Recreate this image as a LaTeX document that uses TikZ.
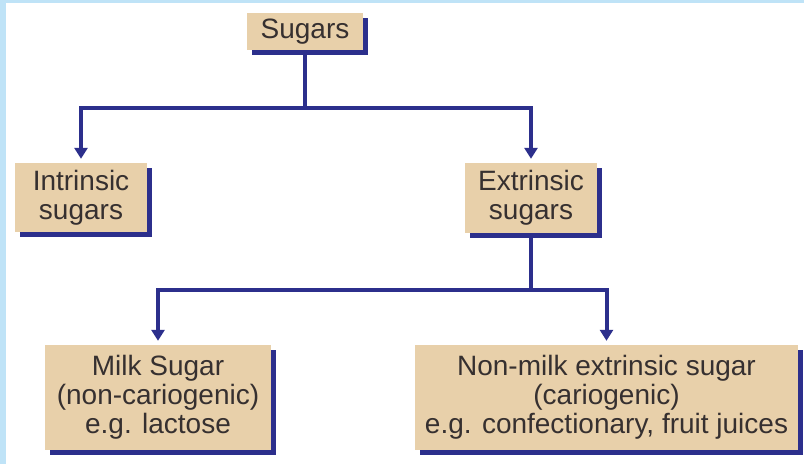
\documentclass[tikz,border=0pt]{standalone}
\usepackage{fontspec}
\setmainfont{Liberation Sans}
\usetikzlibrary{arrows.meta,shadows}
\definecolor{navyc}{HTML}{2C2F8C}
\definecolor{tanc}{HTML}{E8D0AA}
\definecolor{textc}{HTML}{363030}
\definecolor{framec}{HTML}{BFE3F7}
\begin{document}
\begin{tikzpicture}[x=1pt,y=-1pt,
  box/.style={rectangle, fill=tanc, text=textc, inner sep=0pt, align=center,
    font=\fontsize{28}{29}\selectfont,
    drop shadow={shadow xshift=5pt, shadow yshift=-5pt, fill=navyc, opacity=1}},
  link/.style={draw=navyc, line width=4pt},
  arr/.style={link, -{Triangle[width=13pt,length=11pt]}, shorten >=4pt}]
\fill[framec] (0,0) rectangle (804,464);
\fill[white] (6,3) rectangle (804,464);
\useasboundingbox (0,0) rectangle (804,464);
\node[box, minimum width=116pt, minimum height=37pt] (sug) at (305,31.5) {Sugars};
\node[box, minimum width=132pt, minimum height=69pt] (intr) at (81,197.5) {Intrinsic\\sugars};
\node[box, minimum width=132pt, minimum height=70pt] (extr) at (531,198) {Extrinsic\\sugars};
\node[box, minimum width=226pt, minimum height=105pt] (milk) at (158,397.5) {Milk Sugar\\(non-cariogenic)\\e.g. lactose};
\node[box, minimum width=383pt, minimum height=105pt] (nonm) at (606.5,397.5) {Non-milk extrinsic sugar\\(cariogenic)\\e.g. confectionary, fruit juices};
\coordinate (j1) at (305,108);
\coordinate (j2) at (531,290);
\draw[link] (sug.south) ++(0,5) -- (j1);
\draw[arr] (j1) -| (intr.north);
\draw[arr] (j1) -| (extr.north);
\draw[link] (extr.south) ++(0,5) -- (j2);
\draw[arr] (j2) -| (milk.north);
\draw[arr] (j2) -| (nonm.north);
\end{tikzpicture}
\end{document}
